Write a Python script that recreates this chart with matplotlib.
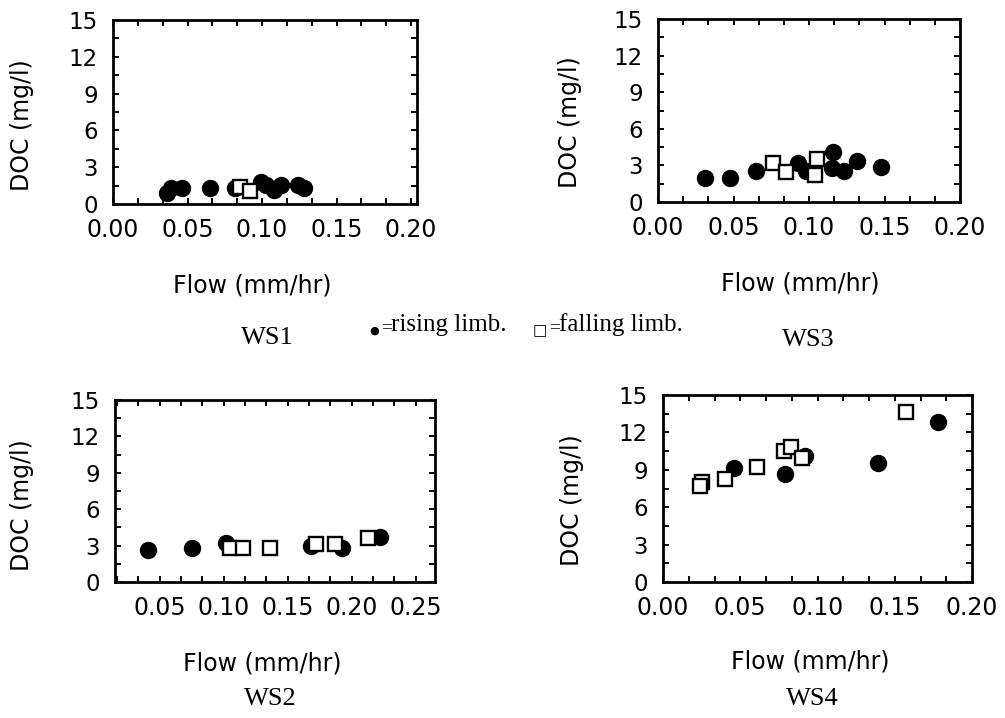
import matplotlib
matplotlib.use("Agg")
import matplotlib.pyplot as plt
from matplotlib.ticker import AutoMinorLocator

W, H = 1005, 718

# WS1
ws1_rise_x = [0.036, 0.039, 0.046, 0.065, 0.082, 0.099, 0.103, 0.108, 0.113, 0.124, 0.128]
ws1_rise_y = [0.92, 1.28, 1.28, 1.28, 1.28, 1.82, 1.55, 1.14, 1.55, 1.55, 1.28]
ws1_fall_x = [0.085, 0.092]
ws1_fall_y = [1.36, 1.09]

# WS3
ws3_rise_x = [0.031, 0.048, 0.065, 0.093, 0.098, 0.116, 0.115, 0.123, 0.132, 0.148]
ws3_rise_y = [1.94, 1.94, 2.57, 3.17, 2.57, 4.12, 2.76, 2.57, 3.39, 2.89]
ws3_fall_x = [0.076, 0.085, 0.105, 0.104]
ws3_fall_y = [3.17, 2.48, 3.50, 2.21]

# WS2
ws2_rise_x = [0.041, 0.075, 0.102, 0.168, 0.192, 0.222]
ws2_rise_y = [2.64, 2.78, 3.19, 3.00, 2.78, 3.73]
ws2_fall_x = [0.105, 0.115, 0.136, 0.172, 0.187, 0.213]
ws2_fall_y = [2.78, 2.78, 2.78, 3.11, 3.11, 3.60]

# WS4
ws4_rise_x = [0.046, 0.079, 0.092, 0.139, 0.178]
ws4_rise_y = [9.17, 8.64, 10.1, 9.57, 12.86]
ws4_fall_x = [0.025, 0.024, 0.040, 0.061, 0.078, 0.083, 0.090, 0.157]
ws4_fall_y = [8.05, 7.70, 8.26, 9.20, 10.5, 10.85, 9.92, 13.66]

y_ticks = [0, 3, 6, 9, 12, 15]

SANS = "DejaVu Sans"
SERIF = "Liberation Serif"


def fx(px):
    return px / W


def fy(py):
    return 1 - py / H


def panel(fig, box, rx, ry, fx_, fy_, xlim, xticks):
    left, top, right, bottom = box
    ax = fig.add_axes([fx(left), fy(bottom), (right - left) / W, (bottom - top) / H])
    ax.plot(rx, ry, "o", color="black", markersize=11.5, linestyle="none")
    ax.plot(fx_, fy_, "s", markerfacecolor="white", markeredgecolor="black",
            markeredgewidth=1.7, markersize=10.5, linestyle="none")
    ax.set_xlim(*xlim)
    ax.set_ylim(0, 15)
    ax.set_xticks(xticks)
    ax.set_xticklabels(["%.2f" % t for t in xticks])
    ax.set_yticks(y_ticks)
    ax.xaxis.set_minor_locator(AutoMinorLocator(3))
    ax.yaxis.set_minor_locator(AutoMinorLocator(2))
    ax.tick_params(which="both", direction="in", top=True, right=True,
                   length=4, width=1.4)
    ax.tick_params(axis="x", pad=10, labelsize=17)
    ax.tick_params(axis="y", pad=11, labelsize=16.5)
    for lab in ax.get_xticklabels() + ax.get_yticklabels():
        lab.set_family(SANS)
    for s in ax.spines.values():
        s.set_linewidth(2)
    return ax


fig = plt.figure(figsize=(W / 100, H / 100), dpi=100)

panel(fig, (113, 20, 417, 204), ws1_rise_x, ws1_rise_y, ws1_fall_x, ws1_fall_y,
      (0, 0.204), [0.0, 0.05, 0.10, 0.15, 0.20])
panel(fig, (658, 19, 960, 202), ws3_rise_x, ws3_rise_y, ws3_fall_x, ws3_fall_y,
      (0, 0.2), [0.0, 0.05, 0.10, 0.15, 0.20])
panel(fig, (115, 400, 435, 582), ws2_rise_x, ws2_rise_y, ws2_fall_x, ws2_fall_y,
      (0.015, 0.265), [0.05, 0.10, 0.15, 0.20, 0.25])
panel(fig, (663, 395, 972, 582), ws4_rise_x, ws4_rise_y, ws4_fall_x, ws4_fall_y,
      (0, 0.2), [0.0, 0.05, 0.10, 0.15, 0.20])

# axis labels
for x, y in [(252, 286), (800, 284), (262, 663), (810, 662)]:
    fig.text(fx(x), fy(y), "Flow (mm/hr)", family=SANS, fontsize=17,
             ha="center", va="center")
for x, y in [(22, 125), (570, 122), (22, 505), (572, 500)]:
    fig.text(fx(x), fy(y), "DOC (mg/l)", family=SANS, fontsize=17,
             rotation=90, ha="center", va="center")

# panel names
for x, y, name in [(267, 338, "WS1"), (808, 340, "WS3"), (270, 699, "WS2"), (812, 699, "WS4")]:
    fig.text(fx(x), fy(y), name, family=SERIF, fontsize=19, ha="center", va="center")

# key
fig.text(fx(374), fy(331), "\u25cf", family=SANS, fontsize=8, ha="center", va="center")
fig.text(fx(381), fy(328), "=", family=SERIF, fontsize=14, ha="left", va="center")
fig.text(fx(391), fy(325), "rising limb.", family=SERIF, fontsize=18, ha="left", va="center")
fig.text(fx(540), fy(331), "\u25a1", family=SANS, fontsize=11, ha="center", va="center")
fig.text(fx(549), fy(328), "=", family=SERIF, fontsize=14, ha="left", va="center")
fig.text(fx(559), fy(325), "falling limb.", family=SERIF, fontsize=18, ha="left", va="center")

fig.savefig("out.png", dpi=100)
